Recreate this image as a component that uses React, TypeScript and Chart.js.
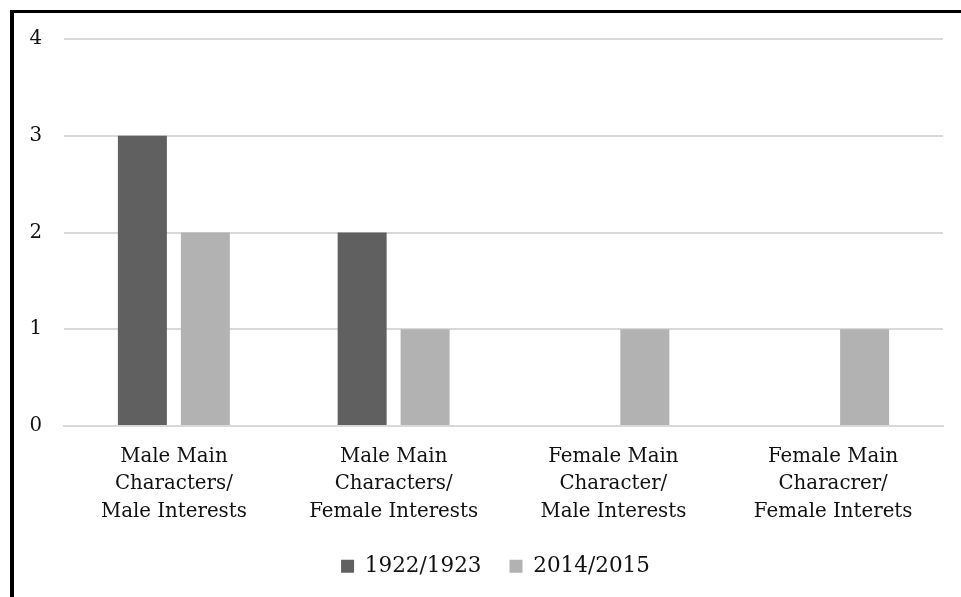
import React, { useEffect, useRef } from "react";
import { Chart, registerables } from "chart.js";

Chart.register(...registerables);

const categories: string[][] = [
  ["Male Main", "Characters/", "Male Interests"],
  ["Male Main", "Characters/", "Female Interests"],
  ["Female Main", "Character/", "Male Interests"],
  ["Female Main", "Characrer/", "Female Interets"],
];
const series1Label = "1922/1923";
const series1Values = [3, 2, 0, 0];
const series2Label = "2014/2015";
const series2Values = [2, 1, 1, 1];
const yTicks = [0, 1, 2, 3, 4];

const FONT = "'DejaVu Serif', serif";

const legendShift = {
  id: "legendShift",
  afterLayout(chart: any) {
    const lg = chart.legend;
    if (lg) {
      lg.left += 10;
      lg.right += 10;
    }
  },
};

export default function App() {
  const ref = useRef<HTMLCanvasElement | null>(null);
  useEffect(() => {
    document.body.style.overflow = "hidden";
    const ctx = ref.current!;
    const chart = new Chart(ctx, {
      type: "bar",
      data: {
        labels: categories,
        datasets: [
          {
            label: series1Label,
            data: series1Values,
            backgroundColor: "#606060",
            categoryPercentage: 0.573,
            barPercentage: 0.778,
          },
          {
            label: series2Label,
            data: series2Values,
            backgroundColor: "#b2b2b2",
            categoryPercentage: 0.573,
            barPercentage: 0.778,
          },
        ],
      },
      plugins: [legendShift],
      options: {
        animation: false,
        responsive: false,
        layout: { padding: { left: 14, top: 26, right: 18, bottom: 10 } },
        plugins: {
          tooltip: { enabled: false },
          legend: {
            position: "bottom",
            labels: {
              boxWidth: 13,
              boxHeight: 13,
              padding: 28,
              color: "#111",
              font: { family: FONT, size: 21.5 },
            },
          },
        },
        scales: {
          x: {
            grid: { display: false },
            border: { color: "#d9d9d9", width: 2 },
            afterFit: (axis: any) => {
              axis.height = 101.5;
            },
            ticks: {
              color: "#111",
              padding: 9,
              font: { family: FONT, size: 19.8, lineHeight: 1.39 },
              maxRotation: 0,
              autoSkip: false,
            },
          },
          y: {
            min: yTicks[0],
            max: yTicks[yTicks.length - 1],
            afterBuildTicks: (axis: any) => {
              axis.ticks = yTicks.map((v) => ({ value: v }));
            },
            afterFit: (axis: any) => {
              axis.width = 36;
              axis.paddingTop = 0;
            },
            grid: { color: "#d9d9d9", lineWidth: 2, drawTicks: false },
            border: { display: false },
            ticks: {
              color: "#111",
              padding: 22,
              font: { family: FONT, size: 19.8 },
            },
          },
        },
      },
    });
    return () => chart.destroy();
  }, []);
  return (
    <div
      style={{
        position: "fixed",
        left: 10,
        top: 10,
        width: 951,
        height: 587,
        borderTop: "3px solid #000",
        borderLeft: "4px solid #000",
        boxSizing: "border-box",
        background: "#fff",
      }}
    >
      <canvas ref={ref} width={947} height={584} style={{ display: "block" }} />
    </div>
  );
}
